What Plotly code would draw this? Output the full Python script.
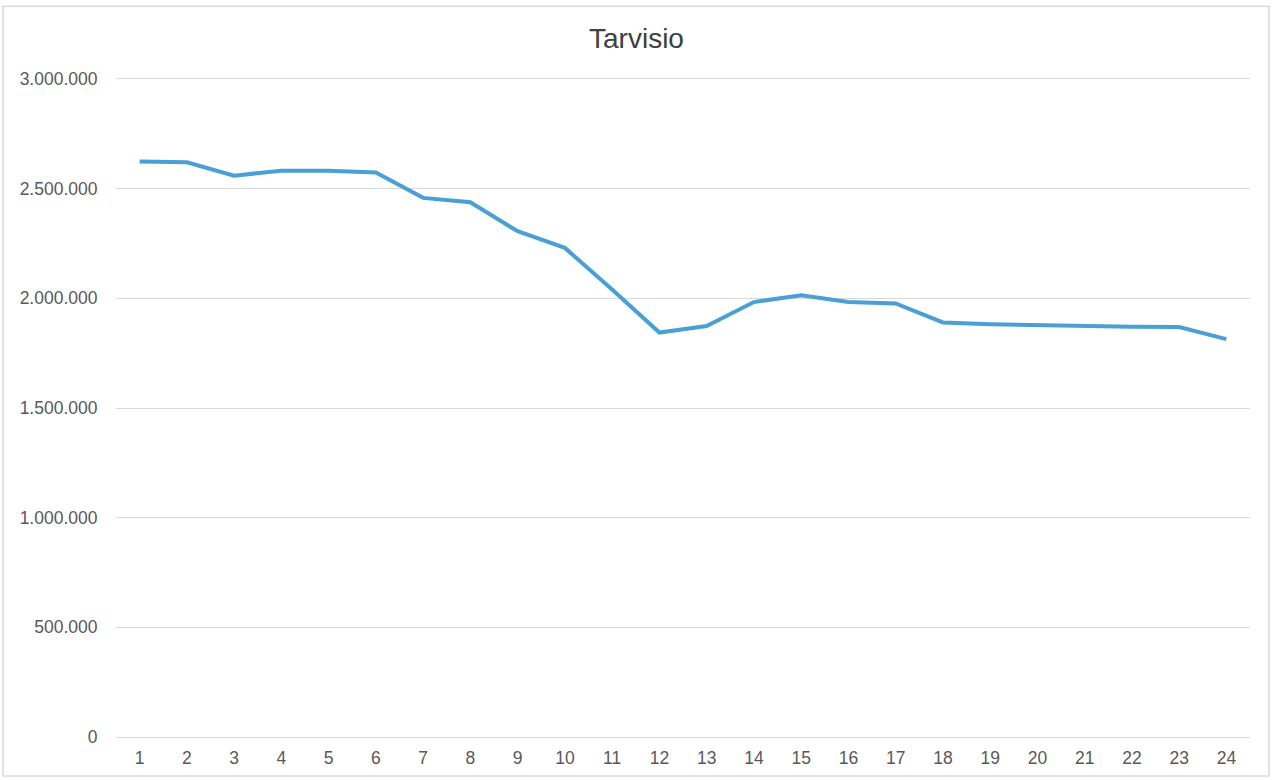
import plotly.graph_objects as go

categories = [str(i) for i in range(1, 25)]
values = [2624000, 2620000, 2559000, 2582000, 2582000, 2574000, 2458000, 2438000,
          2306000, 2230000, 2040000, 1844000, 1874000, 1983000, 2014000, 1983000,
          1977000, 1890000, 1882000, 1877000, 1871000, 1870000, 1869000, 1814000]
y_ticks = [0, 500000, 1000000, 1500000, 2000000, 2500000, 3000000]
y_tick_labels = ["0", "500.000", "1.000.000", "1.500.000", "2.000.000", "2.500.000", "3.000.000"]
title = "Tarvisio"

W, H = 1273, 780
L, R, T, B = 116, 23, 76, 38  # plot area 116..1250, 76..742 (0 at 739, 3M at 79)

fig = go.Figure()
fig.add_trace(go.Scatter(
    x=categories, y=values, mode="lines",
    line=dict(color="#4a9fd4", width=4),
    showlegend=False, hoverinfo="x+y",
))

fig.update_layout(
    width=W, height=H,
    margin=dict(l=L, r=R, t=T, b=B),
    paper_bgcolor="white", plot_bgcolor="white",
    font=dict(family="Liberation Sans, Arial, sans-serif", color="#595959", size=17.5),
    title=dict(text=title, x=0.5, xanchor="center", y=1 - 38 / H, yanchor="middle",
               font=dict(size=28, color="#404040")),
    separators=",.",
)
fig.update_xaxes(
    type="category", showgrid=False, zeroline=False, showline=False,
    ticks="outside", ticklen=2, tickcolor="rgba(0,0,0,0)",
    tickfont=dict(size=17.5, color="#595959"),
    range=[-0.5, 23.5],
)
fig.update_yaxes(
    range=[-13636, 3013636], tickvals=y_ticks, ticktext=y_tick_labels,
    showgrid=True, gridcolor="#d9d9d9", gridwidth=1,
    zeroline=False, showline=False,
    ticks="outside", ticklen=14, tickcolor="rgba(0,0,0,0)",
    tickfont=dict(size=17.5, color="#595959"),
)
# outer chart frame
pw, ph = W - L - R, H - T - B
fig.add_shape(type="rect", xref="paper", yref="paper",
              x0=(3 - L) / pw, x1=(1269 - L) / pw,
              y0=((H - B) - 778) / ph, y1=((H - B) - 6) / ph,
              line=dict(color="#d9d9d9", width=1.5), layer="below")

fig.write_html("out.html", config={"displayModeBar": False},
               post_script="document.body.style.margin='0';document.body.style.overflow='hidden';")
